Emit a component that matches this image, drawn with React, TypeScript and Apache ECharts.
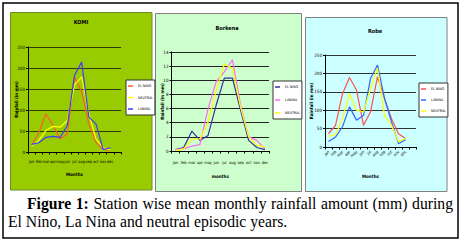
import React, { useEffect, useRef } from "react";
import * as echarts from "echarts";

const months = ["jan", "feb", "mar", "apr", "may", "jun", "jul", "aug", "sep", "oct", "nov", "dec"];
const monthsPadded = [...months, ""];

const komiTitle = "KOMI";
const komiElNino = [16, 45, 91, 63, 31, 43, 179, 143, 67, 23, 6, 4];
const komiNeutral = [14, 27, 51, 61, 59, 75, 159, 179, 91, 31, 10, 5];
const komiLaNina = [18, 22, 35, 37, 35, 63, 182, 214, 83, 67, 6, 10];
const komiYAxis = { min: 0, max: 250, interval: 50 };

const borkenaTitle = "Borkena";
const borkenaElNino = [0.2, 0.5, 2.8, 1.5, 2.2, 6.5, 10.3, 10.3, 5.8, 1.5, 0.5, 0.2];
const borkenaLaNina = [0.2, 0.3, 0.7, 0.9, 6.0, 9.8, 11.2, 12.9, 6.5, 2.0, 1.5, 0.3];
const borkenaNeutral = [0.1, 0.3, 1.7, 1.7, 4.1, 8.6, 12.3, 11.7, 6.2, 2.0, 0.8, 0.6];
const borkenaYAxis = { min: 0, max: 14, interval: 2 };

const robeTitle = "Robe";
const robeElNino = [36, 59, 145, 189, 155, 59, 95, 191, 132, 77, 36, 23];
const robeLaNina = [15, 27, 55, 109, 73, 86, 186, 223, 132, 68, 9, 20];
const robeNeutral = [29, 34, 77, 145, 100, 95, 159, 214, 86, 59, 14, 23];
const robeYAxis = { min: 0, max: 250, interval: 50 };

const yName = "Rainfall (in mm)";
const captionBold = "Figure 1:";
const captionLine1 = "Station wise mean monthly rainfall amount (mm) during";
const captionLine2 = "El Nino, La Nina and neutral episodic years.";
const NARROW = "'Liberation Sans Narrow', 'Arial Narrow', 'DejaVu Sans Condensed', sans-serif";

export default function App() {
  const ref = useRef<HTMLDivElement>(null);

  useEffect(() => {
    if (!ref.current) return;
    const chart = echarts.init(ref.current, undefined, { renderer: "svg" });

    const axisLabel = { fontSize: 4.5, color: "#000", fontFamily: NARROW };
    const nameStyle = { fontSize: 4.5, fontWeight: "bold" as const, color: "#000", fontFamily: NARROW };

    const mkX = (gridIndex: number, data: string[], name: string, nameGap: number, margin: number, rotate = 0) => ({
      type: "category",
      gridIndex,
      data,
      boundaryGap: true,
      name,
      nameLocation: "middle",
      nameGap,
      nameMoveOverlap: false,
      nameTextStyle: nameStyle,
      axisLine: { show: true, lineStyle: { color: "#000", width: 1 } },
      axisTick: { show: true, length: 2.5, lineStyle: { color: "#000" } },
      axisLabel: { ...axisLabel, fontSize: 4, interval: 0, margin, rotate },
      splitLine: { show: false },
    });

    const mkY = (gridIndex: number, cfg: { min: number; max: number; interval: number }, nameGap: number, gridColor: string) => ({
      type: "value",
      gridIndex,
      min: cfg.min,
      max: cfg.max,
      interval: cfg.interval,
      name: yName,
      nameLocation: "middle",
      nameGap,
      nameMoveOverlap: false,
      nameTextStyle: nameStyle,
      axisLine: { show: true, lineStyle: { color: "#000", width: 1 } },
      axisTick: { show: true, length: 2, lineStyle: { color: "#000" } },
      axisLabel: { ...axisLabel, margin: 3 },
      splitLine: { show: true, lineStyle: { color: gridColor, width: 1 } },
    });

    const line = (id: string, name: string, idx: number, data: number[], color: string) => ({
      type: "line",
      id,
      name,
      xAxisIndex: idx,
      yAxisIndex: idx,
      data,
      symbol: "none",
      smooth: false,
      lineStyle: { color, width: 1.2 },
      itemStyle: { color },
      z: 3,
    });

    const legendBase = {
      orient: "vertical",
      icon: "rect",
      itemWidth: 5,
      itemHeight: 1.5,
      backgroundColor: "#fff",
      borderColor: "#333",
      borderWidth: 1,
      borderRadius: 0,
      selectedMode: false,
      formatter: (n: string) => n.split("|")[1],
      textStyle: { fontSize: 3.6, color: "#000", fontFamily: NARROW },
    };

    const titleStyle = { align: "center", verticalAlign: "middle", fontSize: 5.5, fontWeight: "bold", fill: "#000", fontFamily: NARROW };

    const option = {
      animation: false,
      graphic: [
        { type: "rect", z: -10, shape: { x: 3, y: 3, width: 455, height: 235 }, style: { fill: "#fff", stroke: "#000", lineWidth: 1.5 } },
        { type: "rect", z: -9, shape: { x: 10.5, y: 12.5, width: 141.5, height: 177.5 }, style: { fill: "#99CC00", stroke: "#6b8a2a", lineWidth: 1 } },
        { type: "rect", z: -9, shape: { x: 155.5, y: 13.5, width: 146, height: 178 }, style: { fill: "#CCFFCC", stroke: "#808080", lineWidth: 1 } },
        { type: "rect", z: -9, shape: { x: 305.5, y: 17.5, width: 141.5, height: 174 }, style: { fill: "#CCFFFF", stroke: "#808080", lineWidth: 1 } },
        { type: "text", z: 10, x: 81, y: 22, style: { text: komiTitle, ...titleStyle } },
        { type: "text", z: 10, x: 227, y: 28, style: { text: borkenaTitle, ...titleStyle } },
        { type: "text", z: 10, x: 375, y: 31, style: { text: robeTitle, ...titleStyle } },
      ],
      grid: [
        { left: 28, top: 47, width: 93, height: 105, containLabel: false },
        { left: 171.5, top: 52, width: 97.5, height: 99, containLabel: false },
        { left: 325, top: 55, width: 91, height: 92, containLabel: false },
      ],
      xAxis: [
        mkX(0, monthsPadded, "Months", 20, 7),
        mkX(1, months, "months", 23, 9),
        mkX(2, monthsPadded, "Months", 27, 4, 45),
      ],
      yAxis: [
        mkY(0, komiYAxis, 9, "#2e3a10"),
        mkY(1, borkenaYAxis, 7, "#222"),
        mkY(2, robeYAxis, 11, "#333"),
      ],
      legend: [
        {
          ...legendBase,
          left: 126,
          top: 80,
          padding: [4, 2, 4, 2],
          itemGap: 7.5,
          data: ["k|EL NINO", "k|NEUTRAL", "k|LANINA"],
        },
        {
          ...legendBase,
          left: 273,
          top: 81,
          padding: [4, 2, 4, 2],
          itemGap: 9,
          data: ["b|EL NINO", "b|LANINA", "b|NEUTRAL"],
        },
        {
          ...legendBase,
          left: 419,
          top: 83,
          padding: [4, 2, 4, 2],
          itemGap: 7,
          data: ["r|EL NINO", "r|LANINA", "r|NEUTRAL"],
        },
      ],
      series: [
        line("k1", "k|EL NINO", 0, komiElNino, "#ff5a32"),
        line("k2", "k|NEUTRAL", 0, komiNeutral, "#ffff00"),
        line("k3", "k|LANINA", 0, komiLaNina, "#3c3cff"),
        line("b1", "b|EL NINO", 1, borkenaElNino, "#333399"),
        line("b2", "b|LANINA", 1, borkenaLaNina, "#ff66ff"),
        line("b3", "b|NEUTRAL", 1, borkenaNeutral, "#ffff00"),
        line("r1", "r|EL NINO", 2, robeElNino, "#ff5050"),
        line("r2", "r|LANINA", 2, robeLaNina, "#3366ff"),
        line("r3", "r|NEUTRAL", 2, robeNeutral, "#ffff00"),
      ],
    };

    chart.setOption(option as any);
    return () => chart.dispose();
  }, []);

  const captionFont = {
    fontFamily: "'Liberation Serif', 'Times New Roman', serif",
    fontSize: 15.7,
    lineHeight: "18px",
    color: "#000",
    whiteSpace: "nowrap" as const,
  };

  return (
    <div style={{ position: "fixed", left: 0, top: 0, width: 462, height: 241, background: "#fff", overflow: "hidden" }}>
      <div ref={ref} style={{ position: "absolute", left: 0, top: 0, width: 462, height: 241 }} />
      <div style={{ ...captionFont, position: "absolute", left: 27, top: 195, width: 426, textAlign: "justify", textAlignLast: "justify" as any }}>
        <b>{captionBold}</b> {captionLine1}
      </div>
      <div style={{ ...captionFont, position: "absolute", left: 8, top: 213 }}>{captionLine2}</div>
    </div>
  );
}
